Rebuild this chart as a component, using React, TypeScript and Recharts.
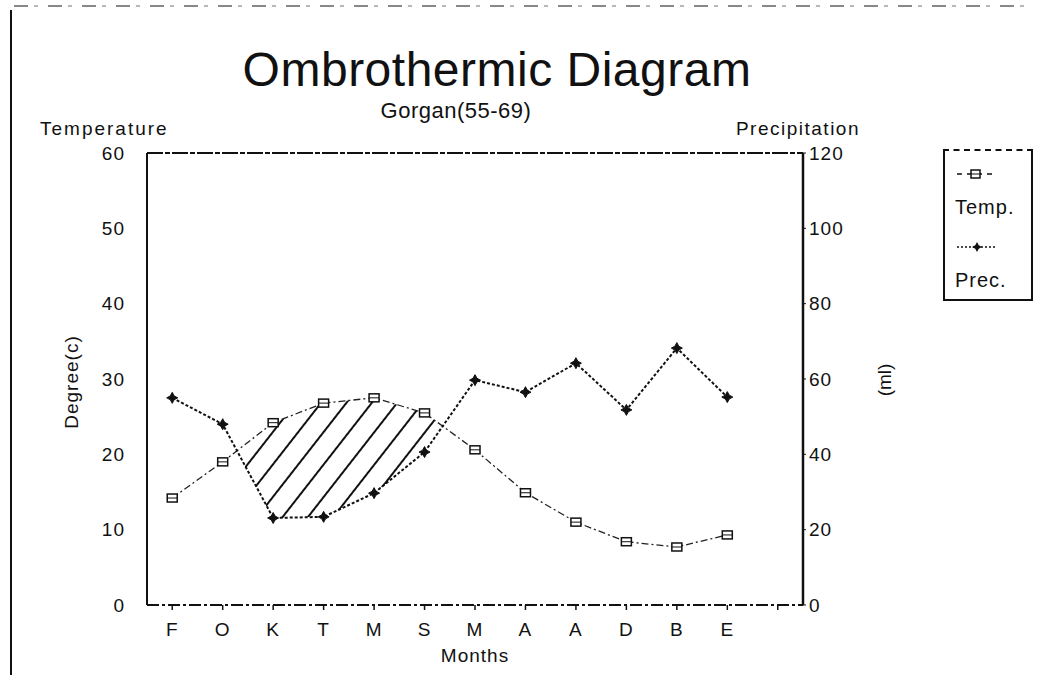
import React from 'react'
import {
  ComposedChart,
  Line,
  Area,
  XAxis,
  YAxis,
  ReferenceLine,
  Legend,
} from 'recharts'

// Persian months, Farvardin .. Esfand
const MONTHS = ['F', 'O', 'K', 'T', 'M', 'S', 'M', 'A', 'A', 'D', 'B', 'E']
// mean temperature, degree (c)
const TEMP = [14.2, 19.0, 24.2, 26.8, 27.5, 25.5, 20.6, 14.9, 11.0, 8.4, 7.7, 9.3]
// precipitation (ml)
const PREC = [55.0, 48.0, 23.1, 23.4, 29.7, 40.6, 59.7, 56.5, 64.2, 51.8, 68.2, 55.2]

const X_TICKS = [1, 2, 3, 4, 5, 6, 7, 8, 9, 10, 11, 12, 13]
const TEMP_TICKS = [0, 10, 20, 30, 40, 50, 60]
const PREC_TICKS = [0, 20, 40, 60, 80, 100, 120]

const data = MONTHS.map((month, i) => ({
  x: i + 1,
  month,
  temp: TEMP[i],
  prec: PREC[i],
}))

const FIRST = 1
const LAST = MONTHS.length

const FONT = "'Liberation Sans', Arial, Helvetica, sans-serif"
const INK = '#111'

function TempDot(props: any) {
  const { cx, cy, key } = props
  if (cx == null || cy == null) return null
  return (
    <g key={key}>
      <rect x={cx - 5} y={cy - 4} width={10} height={8} fill="#fff" stroke={INK} strokeWidth={1.5} />
      <line x1={cx - 5} x2={cx + 5} y1={cy} y2={cy} stroke={INK} strokeWidth={1} />
    </g>
  )
}

function starPath(cx: number, cy: number, r: number) {
  const s = r * 0.35
  return `M${cx},${cy - r} L${cx + s},${cy - s} L${cx + r},${cy} L${cx + s},${cy + s} L${cx},${cy + r} L${cx - s},${cy + s} L${cx - r},${cy} L${cx - s},${cy - s} Z`
}

function PrecDot(props: any) {
  const { cx, cy, key } = props
  if (cx == null || cy == null) return null
  return <path key={key} d={starPath(cx, cy, 5.5)} fill={INK} stroke={INK} strokeWidth={1} />
}

function LegendBox() {
  return (
    <div
      style={{
        boxSizing: 'border-box',
        width: 90,
        height: 152,
        borderLeft: '2px solid #111',
        borderRight: '2px solid #111',
        borderBottom: '2px solid #111',
        borderTop: '2px dashed #111',
        fontFamily: FONT,
        fontSize: 20,
        color: INK,
        paddingLeft: 10,
        paddingTop: 16,
        lineHeight: '20px',
      }}
    >
      <svg width={44} height={14} style={{ display: 'block' }}>
        <line x1={2} x2={40} y1={7} y2={7} stroke={INK} strokeWidth={1.3} strokeDasharray="5 5" />
        <rect x={16} y={3} width={9} height={8} fill="#fff" stroke={INK} strokeWidth={1.5} />
        <line x1={16} x2={25} y1={7} y2={7} stroke={INK} strokeWidth={1} />
      </svg>
      <div style={{ marginTop: 16, letterSpacing: 1 }}>Temp.</div>
      <svg width={44} height={14} style={{ display: 'block', marginTop: 23 }}>
        <line x1={2} x2={42} y1={7} y2={7} stroke={INK} strokeWidth={1.6} strokeDasharray="2 2" />
        <path d={starPath(22, 7, 5)} fill={INK} />
      </svg>
      <div style={{ marginTop: 16, letterSpacing: 1 }}>Prec.</div>
    </div>
  )
}

const tickStyle = { fill: INK, fontSize: 19, fontFamily: FONT, letterSpacing: 1 }

export default function App() {
  return (
    <div
      style={{
        position: 'absolute',
        left: 0,
        top: 0,
        width: 1038,
        height: 675,
        background: '#fff',
        overflow: 'hidden',
        fontFamily: FONT,
      }}
    >
      {/* scanned page edges */}
      <div style={{ position: 'absolute', left: 10, top: 10, width: 2, height: 665, background: INK }} />
      <div
        style={{
          position: 'absolute',
          left: 14,
          top: 5,
          width: 1015,
          height: 2,
          background: 'repeating-linear-gradient(90deg, #555 0 14px, transparent 14px 20px, #999 20px 24px, transparent 24px 34px)',
          opacity: 0.7,
        }}
      />

      <ComposedChart
        width={1038}
        height={675}
        data={data}
        margin={{ top: 153, right: 0, bottom: 0, left: 0 }}
      >
        <defs>
          <pattern
            id="hatch"
            patternUnits="userSpaceOnUse"
            width={20}
            height={20}
            patternTransform="rotate(38)"
          >
            <line x1={0} y1={0} x2={0} y2={20} stroke={INK} strokeWidth={4} />
          </pattern>
        </defs>

        {/* hatch under the temperature curve, then blank out what lies under precipitation */}
        <Area
          yAxisId="left"
          type="linear"
          dataKey="temp"
          stroke="none"
          fill="url(#hatch)"
          fillOpacity={1}
          isAnimationActive={false}
          activeDot={false}
          legendType="none"
        />
        <Area
          yAxisId="right"
          type="linear"
          dataKey="prec"
          stroke="none"
          fill="#fff"
          fillOpacity={1}
          shapeRendering="crispEdges"
          isAnimationActive={false}
          activeDot={false}
          legendType="none"
        />
        {/* hide anti-aliasing seams at the outer edges of the hatch area */}
        <ReferenceLine
          yAxisId="right"
          segment={[{ x: FIRST, y: 0 }, { x: FIRST, y: PREC[0] }]}
          stroke="#fff"
          strokeWidth={2}
        />
        <ReferenceLine
          yAxisId="right"
          segment={[{ x: LAST, y: 0 }, { x: LAST, y: PREC[LAST - 1] }]}
          stroke="#fff"
          strokeWidth={2}
        />

        <ReferenceLine yAxisId="left" y={60} stroke={INK} strokeWidth={2} strokeDasharray="16 2 5 2" />

        <Line
          yAxisId="left"
          type="linear"
          dataKey="temp"
          name="Temp."
          stroke="#222"
          strokeWidth={1.3}
          strokeDasharray="7 3 2 3"
          dot={<TempDot />}
          activeDot={false}
          isAnimationActive={false}
        />
        <Line
          yAxisId="right"
          type="linear"
          dataKey="prec"
          name="Prec."
          stroke={INK}
          strokeWidth={2}
          strokeDasharray="3 2"
          dot={<PrecDot />}
          activeDot={false}
          isAnimationActive={false}
        />

        <XAxis
          dataKey="x"
          type="number"
          domain={[0.5, 13.5]}
          ticks={X_TICKS}
          interval={0}
          height={70}
          tickFormatter={(v: number) => MONTHS[v - 1] ?? ''}
          tick={tickStyle}
          tickSize={5}
          tickMargin={13}
          tickLine={{ stroke: INK, strokeWidth: 1.5 }}
          axisLine={{ stroke: INK, strokeWidth: 2, strokeDasharray: '12 3 3 3' }}
          label={{
            value: 'Months',
            position: 'insideBottom',
            offset: 13,
            fill: INK,
            fontSize: 19,
            fontFamily: FONT,
            letterSpacing: 1,
          }}
        />
        <YAxis
          yAxisId="left"
          orientation="left"
          domain={[0, 60]}
          ticks={TEMP_TICKS}
          width={147}
          tick={tickStyle}
          tickLine={false}
          tickSize={6}
          tickMargin={16}
          axisLine={{ stroke: INK, strokeWidth: 2 }}
        />
        <YAxis
          yAxisId="right"
          orientation="right"
          domain={[0, 120]}
          ticks={PREC_TICKS}
          width={235}
          tick={tickStyle}
          tickLine={{ stroke: INK, strokeWidth: 1 }}
          tickSize={3}
          tickMargin={3}
          axisLine={{ stroke: INK, strokeWidth: 2.5 }}
        />

        <Legend
          layout="horizontal"
          verticalAlign="middle"
          align="center"
          content={<LegendBox />}
          wrapperStyle={{ left: 943, top: 149, width: 90, height: 152 }}
        />
      </ComposedChart>

      {/* titles */}
      <svg
        width={1038}
        height={675}
        style={{ position: 'absolute', left: 0, top: 0, pointerEvents: 'none' }}
        fontFamily={FONT}
        fill={INK}
      >
        <text x={497} y={86} fontSize={48} textAnchor="middle" letterSpacing={0.5}>
          Ombrothermic Diagram
        </text>
        <text x={456} y={118} fontSize={22} textAnchor="middle" letterSpacing={0.5}>
          Gorgan(55-69)
        </text>
        <text x={40} y={135} fontSize={19} letterSpacing={2}>
          Temperature
        </text>
        <text x={860} y={135} fontSize={19} textAnchor="end" letterSpacing={1.5}>
          Precipitation
        </text>
        <text
          x={71}
          y={382}
          fontSize={19}
          textAnchor="middle"
          dominantBaseline="central"
          letterSpacing={1}
          transform="rotate(-90 71 382)"
        >
          Degree(c)
        </text>
        <text
          x={884}
          y={380}
          fontSize={19}
          textAnchor="middle"
          dominantBaseline="central"
          transform="rotate(-90 884 380)"
        >
          (ml)
        </text>
      </svg>
    </div>
  )
}
